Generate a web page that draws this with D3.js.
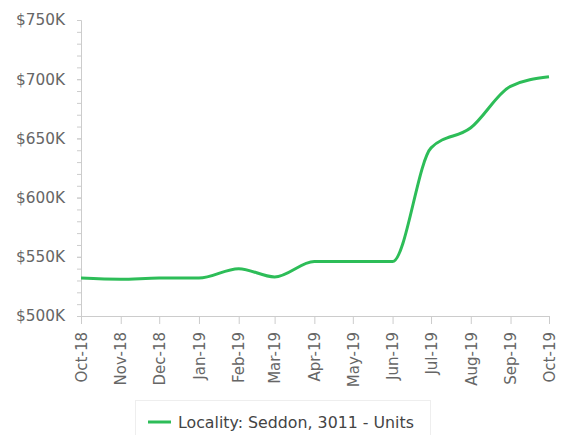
<!DOCTYPE html>
<html>
<head>
<meta charset="utf-8">
<script src="https://cdn.jsdelivr.net/npm/d3@7"></script>
<style>
  body { margin: 0; background: #fff; }
  text { font-family: "DejaVu Sans", Verdana, sans-serif; }
</style>
</head>
<body>
<script>
// monthly median values, in $K
var months = ["2018-10-01", "2018-11-01", "2018-12-01", "2019-01-01", "2019-02-01", "2019-03-01",
  "2019-04-01", "2019-05-01", "2019-06-01", "2019-07-01", "2019-08-01", "2019-09-01", "2019-10-01"];
var values = [532, 531, 532, 532, 540, 533, 546, 546, 546, 642, 659, 694, 702];
var yTicks = [500, 550, 600, 650, 700, 750];
var seriesName = "Locality: Seddon, 3011 - Units";

var W = 566, H = 435;
var margin = {top: 20, right: 17, bottom: 119, left: 81};
var width = W - margin.left - margin.right,
  height = H - margin.top - margin.bottom;

var parse = d3.timeParse("%Y-%m-%d");
var data = months.map(function(m, i) { return {date: parse(m), value: values[i]}; });

var svg = d3.select("body").append("svg")
  .attr("width", W)
  .attr("height", H);

var g = svg.append("g")
  .attr("transform", "translate(" + margin.left + "," + margin.top + ")");

var x = d3.scaleTime()
  .domain(d3.extent(data, function(d) { return d.date; }))
  .range([0, width]);

var y = d3.scaleLinear()
  .domain([500, 750])
  .range([height, 0]);

var axisColor = "#cccccc", labelColor = "#666666";

// minor y ticks every 10K
g.append("g")
  .selectAll("line")
  .data(d3.range(500, 751, 10))
  .enter().append("line")
  .attr("x1", -4).attr("x2", 0)
  .attr("y1", function(d) { return y(d) + 0.5; })
  .attr("y2", function(d) { return y(d) + 0.5; })
  .attr("stroke", axisColor);

// y axis
var yAxis = g.append("g")
  .call(d3.axisLeft(y).tickValues(yTicks).tickSize(4).tickPadding(12)
    .tickFormat(function(d) { return "$" + d + "K"; }));
yAxis.select(".domain").attr("stroke", axisColor);
yAxis.selectAll(".tick line").attr("stroke", axisColor);
yAxis.selectAll(".tick text")
  .attr("fill", labelColor)
  .style("font-size", "15.3px");

// x axis
var xAxis = g.append("g")
  .attr("transform", "translate(0," + height + ")")
  .call(d3.axisBottom(x).tickValues(data.map(function(d) { return d.date; }))
    .tickSize(8).tickFormat(d3.timeFormat("%b-%y")));
xAxis.select(".domain").attr("stroke", axisColor);
xAxis.selectAll(".tick line").attr("stroke", axisColor);
xAxis.selectAll(".tick text")
  .attr("fill", labelColor)
  .style("font-size", "15px")
  .attr("text-anchor", "end")
  .attr("transform", "rotate(-90)")
  .attr("x", -16)
  .attr("y", 0)
  .attr("dy", "0.35em");

// the line
var line = d3.line()
  .x(function(d) { return x(d.date); })
  .y(function(d) { return y(d.value); })
  .curve(d3.curveMonotoneX);

var green = "#2dbd58";

g.append("path")
  .datum(data)
  .attr("fill", "none")
  .attr("stroke", green)
  .attr("stroke-width", 3)
  .attr("stroke-linejoin", "round")
  .attr("d", line);

// legend
var legend = svg.append("g").attr("transform", "translate(135,400)");
legend.append("rect")
  .attr("x", 0.5).attr("y", 0.5)
  .attr("width", 295).attr("height", 40)
  .attr("fill", "#fff")
  .attr("stroke", "#eeeeee");
legend.append("line")
  .attr("x1", 13).attr("x2", 36)
  .attr("y1", 22).attr("y2", 22)
  .attr("stroke", green)
  .attr("stroke-width", 3);
legend.append("text")
  .attr("x", 43).attr("y", 22)
  .attr("dy", "0.35em")
  .attr("fill", "#444444")
  .style("font-size", "15.8px")
  .text(seriesName);
</script>
</body>
</html>
